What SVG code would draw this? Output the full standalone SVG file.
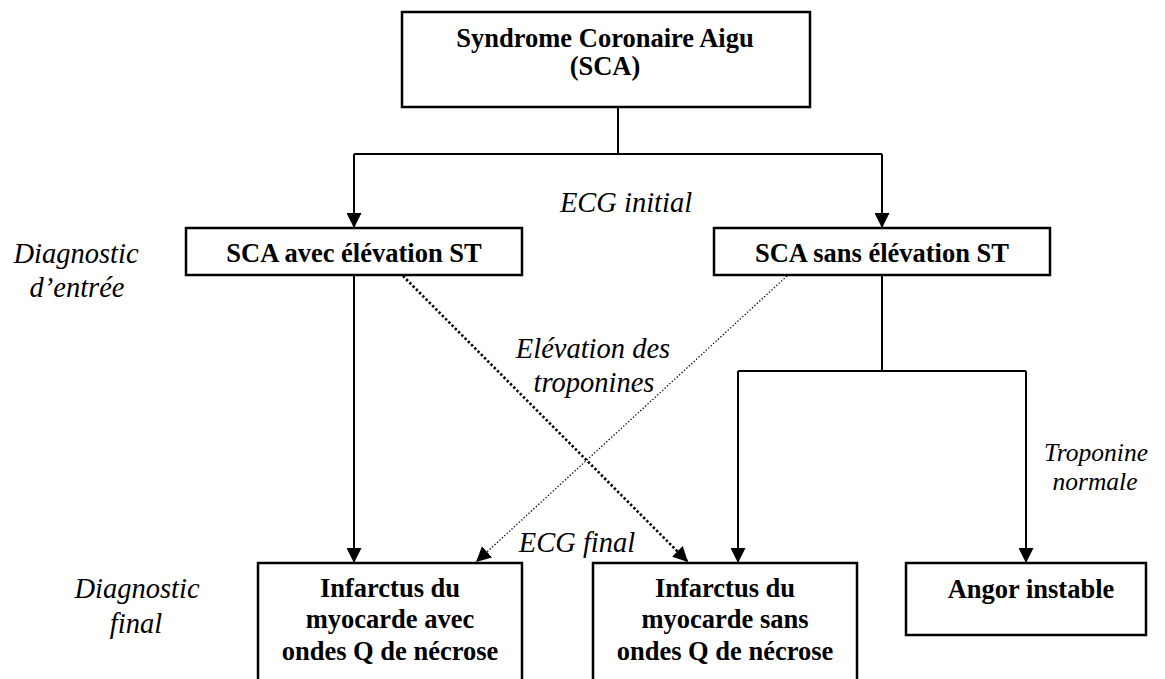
<svg xmlns="http://www.w3.org/2000/svg" width="1165" height="679" viewBox="0 0 1165 679">
<defs>
<style>
.box{fill:#fff;stroke:#000;stroke-width:2.5}
.b{font-weight:bold;font-size:26.5px;fill:#000;text-anchor:middle}
.i{font-style:italic;font-size:28.5px;fill:#000;text-anchor:middle}
.ln{fill:none;stroke:#000;stroke-width:2}
.dotA{fill:none;stroke:#000;stroke-width:2.6;stroke-dasharray:2.4 2.2}
.dotB{fill:none;stroke:#000;stroke-width:1.3;stroke-dasharray:1.3 2}
</style>
<marker id="arr" markerUnits="userSpaceOnUse" markerWidth="15" markerHeight="15" refX="15" refY="7.5" orient="auto">
<path d="M0,0 L15,7.5 L0,15 Z" fill="#000"/>
</marker>
</defs>
<rect width="1165" height="679" fill="#fff"/>
<g id="connectors">
<polyline class="ln" points="618,107 618,154"/>
<polyline class="ln" points="354,154 882,154"/>
<line class="ln" x1="354" y1="154" x2="354" y2="228" marker-end="url(#arr)"/>
<line class="ln" x1="882" y1="154" x2="882" y2="228" marker-end="url(#arr)"/>
<line class="ln" x1="354" y1="275" x2="354" y2="563" marker-end="url(#arr)"/>
<polyline class="ln" points="882,275 882,371"/>
<polyline class="ln" points="738,371 1026,371"/>
<line class="ln" x1="738" y1="371" x2="738" y2="563" marker-end="url(#arr)"/>
<line class="ln" x1="1026" y1="371" x2="1026" y2="563" marker-end="url(#arr)"/>
<line class="dotA" x1="403" y1="276" x2="688" y2="562" marker-end="url(#arr)"/>
<line class="dotB" x1="787" y1="276" x2="476" y2="562" marker-end="url(#arr)"/>
</g>
<g id="labels" font-family="Liberation Serif, DejaVu Serif, serif">
<text class="i" x="626" y="212">ECG initial</text>
<text class="i" x="76" y="263">Diagnostic</text>
<text class="i" x="77" y="297">d’entrée</text>
<text class="i" x="593" y="358">Elévation des</text>
<text class="i" x="594" y="392">troponines</text>
<text class="i" x="1096" y="461" style="font-size:25.5px">Troponine</text>
<text class="i" x="1095" y="490" style="font-size:25.5px">normale</text>
<text class="i" x="577" y="552">ECG final</text>
<text class="i" x="137" y="598">Diagnostic</text>
<text class="i" x="136" y="633">final</text>
</g>
<g id="nodes" font-family="Liberation Serif, DejaVu Serif, serif">
<g id="sca">
<rect class="box" x="402" y="12" width="408" height="95"/>
<text class="b" x="605" y="47">Syndrome Coronaire Aigu</text>
<text class="b" x="605" y="75">(SCA)</text>
</g>
<g id="sca-st">
<rect class="box" x="186" y="228" width="336" height="47"/>
<text class="b" x="354" y="262">SCA avec élévation ST</text>
</g>
<g id="sca-nst">
<rect class="box" x="714" y="228" width="336" height="47"/>
<text class="b" x="882" y="262">SCA sans élévation ST</text>
</g>
<g id="idm-q">
<rect class="box" x="258" y="563" width="264" height="130"/>
<text class="b" x="390" y="597">Infarctus du</text>
<text class="b" x="390" y="628">myocarde avec</text>
<text class="b" x="390" y="660">ondes Q de nécrose</text>
</g>
<g id="idm-nq">
<rect class="box" x="593" y="563" width="264" height="130"/>
<text class="b" x="725" y="597">Infarctus du</text>
<text class="b" x="725" y="628">myocarde sans</text>
<text class="b" x="725" y="660">ondes Q de nécrose</text>
</g>
<g id="angor">
<rect class="box" x="906" y="563" width="240" height="72"/>
<text class="b" x="1031" y="598">Angor instable</text>
</g>
</g>
</svg>
